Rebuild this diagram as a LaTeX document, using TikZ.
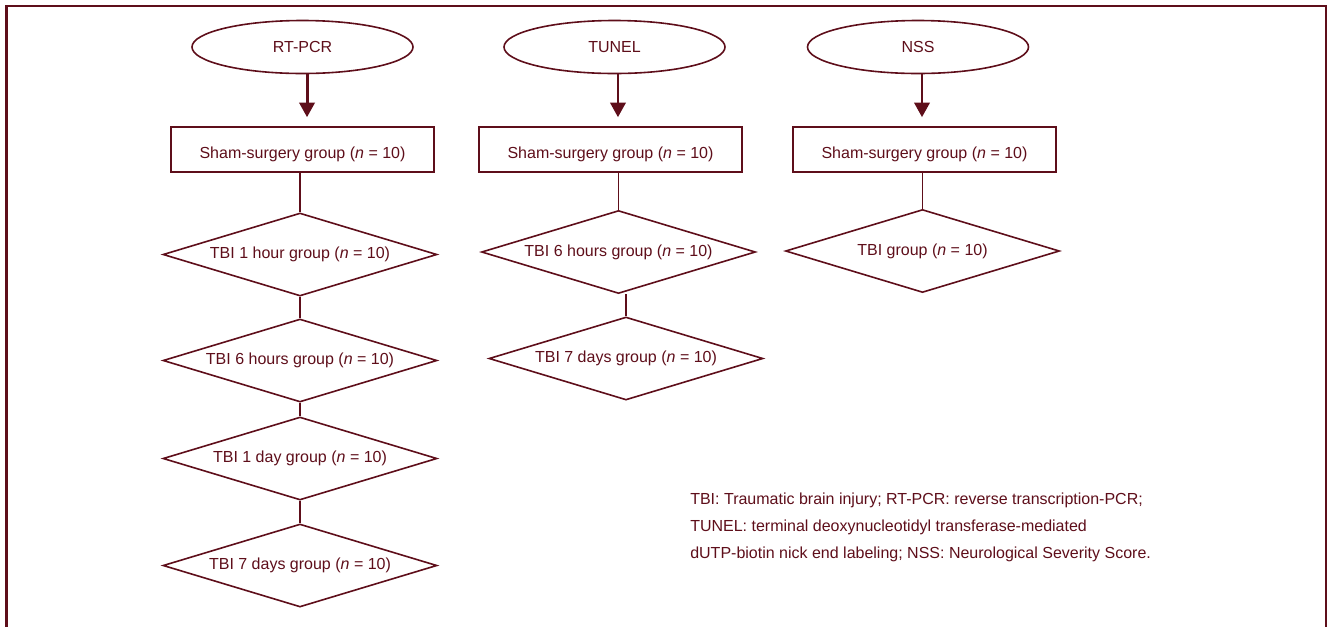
\documentclass[tikz,border=0pt]{standalone}
\usepackage{fontspec}
\setmainfont{Liberation Sans}
\usetikzlibrary{shapes.geometric,arrows.meta}
\definecolor{mar}{RGB}{94,14,26}
\begin{document}
\begin{tikzpicture}[x=0.75pt,y=-0.75pt,
  every node/.style={font=\fontsize{12}{14}\selectfont, text=mar},
  ell/.style={draw=mar, line width=1.2pt, ellipse, minimum width=165.75pt, minimum height=39.75pt, inner sep=0pt},
  box/.style={draw=mar, line width=1.2pt, rectangle, minimum width=197.25pt, minimum height=33.75pt, inner sep=0pt, text height=13.5pt, text depth=0pt},
  dia/.style={draw=mar, line width=1.2pt, diamond, aspect=3.3, minimum width=205.5pt, minimum height=62.25pt, inner sep=0pt},
  link/.style={draw=mar, line width=1.3pt},
  arr/.style={draw=mar, line width=2.2pt, -{Triangle[width=11.5pt,length=11pt]}, shorten >=6.75pt}
]
\useasboundingbox (0,0) rectangle (1327,626);
\draw[mar, line width=1.6pt] (6.5,640) -- (6.5,6) -- (1326,6) -- (1326,640);

\node[ell] (e1) at (302.5,47) {RT-PCR};
\node[ell] (e2) at (614.5,47) {TUNEL};
\node[ell] (e3) at (918,47) {NSS};

\node[box] (b1) at (302.5,149.5) {Sham-surgery group (\textit{n} = 10)};
\node[box] (b2) at (610.5,149.5) {Sham-surgery group (\textit{n} = 10)};
\node[box] (b3) at (924.5,149.5) {Sham-surgery group (\textit{n} = 10)};

\node[dia] (a1) at (300,254.5) {TBI 1 hour group (\textit{n} = 10)};
\node[dia] (a2) at (300,360.5) {TBI 6 hours group (\textit{n} = 10)};
\node[dia] (a3) at (300,458.5) {TBI 1 day group (\textit{n} = 10)};
\node[dia] (a4) at (300,565.5) {TBI 7 days group (\textit{n} = 10)};

\node[dia] (c1) at (618.5,252) {TBI 6 hours group (\textit{n} = 10)};
\node[dia] (c2) at (626,358.5) {TBI 7 days group (\textit{n} = 10)};

\node[dia] (n1) at (922.5,251) {TBI group (\textit{n} = 10)};

\draw[arr] ([xshift=3.4pt]e1.south) -- ([xshift=3.4pt]e1.south |- b1.north);
\draw[arr] ([xshift=2.6pt]e2.south) -- ([xshift=2.6pt]e2.south |- b2.north);
\draw[arr] ([xshift=3pt]e3.south) -- ([xshift=3pt]e3.south |- b3.north);

\draw[link] (b1.south -| a1.north) -- (a1.north);
\draw[link] (a1.south) -- (a2.north);
\draw[link] (a2.south) -- (a3.north);
\draw[link] (a3.south) -- (a4.north);
\draw[link] (b2.south -| c1.north) -- (c1.north);
\draw[link] (c1.south -| c2.north) -- (c2.north);
\draw[link] (b3.south -| n1.north) -- (n1.north);

\node[anchor=north west, align=left, inner sep=0pt, font=\fontsize{12}{20.25}\selectfont] (note) at (690,493)
  {TBI: Traumatic brain injury; RT-PCR: reverse transcription-PCR;\\
   TUNEL: terminal deoxynucleotidyl transferase-mediated\\
   dUTP-biotin nick end labeling; NSS: Neurological Severity Score.};
\end{tikzpicture}
\end{document}
